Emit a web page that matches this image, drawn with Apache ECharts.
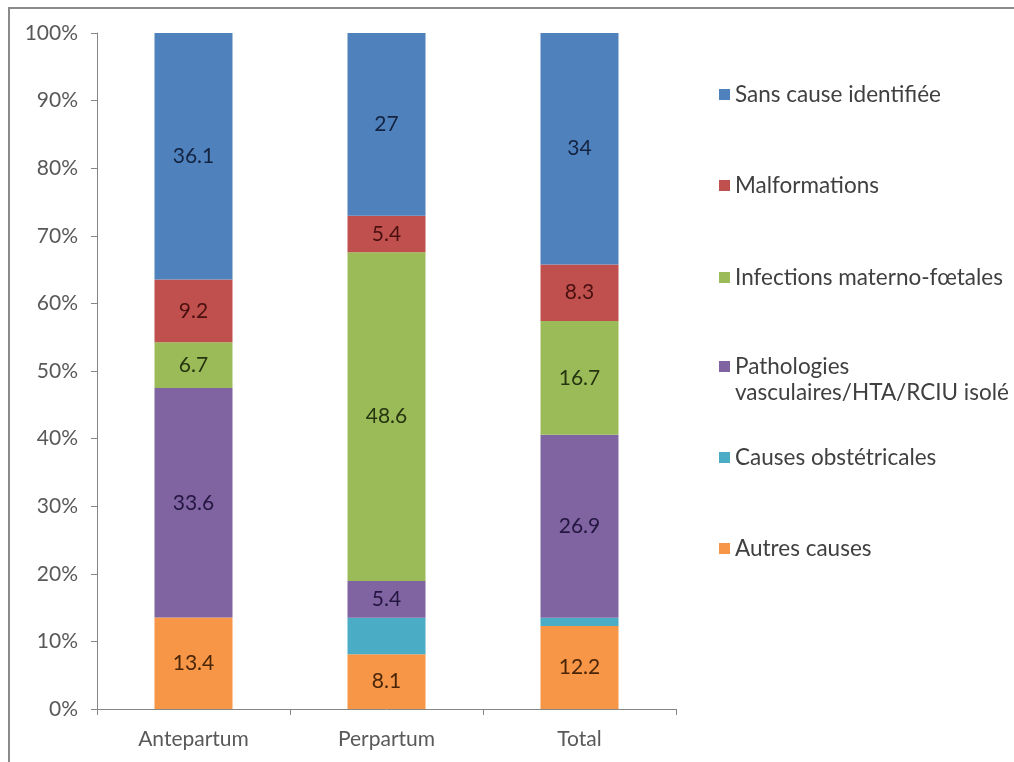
<!DOCTYPE html>
<html>
<head>
<meta charset="utf-8">
<script src="https://cdn.jsdelivr.net/npm/echarts@6/dist/echarts.min.js"></script>
<style>
  html, body { margin: 0; padding: 0; background: #ffffff; }
  #chart { width: 1014px; height: 762px; }
</style>
</head>
<body>
<div id="chart"></div>
<script>
// Périodes de décès
const categories = ['Antepartum', 'Perpartum', 'Total'];

// Causes, du bas de la pile vers le haut
const autresCauses        = [13.4, 8.1, 12.2];
const causesObstetricales = [0, 5.4, 1.2];
const pathologiesVasc     = [33.6, 5.4, 26.9];
const infections          = [6.7, 48.6, 16.7];
const malformations       = [9.2, 5.4, 8.3];
const sansCause           = [36.1, 27, 34];

const yTickLabels = ['0%', '10%', '20%', '30%', '40%', '50%', '60%', '70%', '80%', '90%', '100%'];

const seriesDefs = [
  { name: 'Autres causes', values: autresCauses, color: '#F79646', labelColor: '#4a2508', showLabel: true },
  { name: 'Causes obstétricales', values: causesObstetricales, color: '#4BACC6', labelColor: '#12343d', showLabel: false },
  { name: 'Pathologies vasculaires/HTA/RCIU isolé', values: pathologiesVasc, color: '#8064A2', labelColor: '#231640', showLabel: true },
  { name: 'Infections materno-fœtales', values: infections, color: '#9BBB59', labelColor: '#263510', showLabel: true },
  { name: 'Malformations', values: malformations, color: '#C0504D', labelColor: '#4a1010', showLabel: true },
  { name: 'Sans cause identifiée', values: sansCause, color: '#4F81BD', labelColor: '#14233f', showLabel: true }
];

// Totaux par colonne : chaque colonne est ramenée à 100 %
const totals = categories.map((_, i) => seriesDefs.reduce((s, d) => s + d.values[i], 0));

const FONT = 'Lato, "Open Sans", sans-serif';
const FS = 21;
const LEGEND_FS = 22.5;

const series = seriesDefs.map(d => ({
  name: d.name,
  type: 'bar',
  stack: 'pct',
  barWidth: 78,
  itemStyle: { color: d.color },
  label: {
    show: d.showLabel,
    position: 'inside',
    fontFamily: FONT,
    fontSize: FS,
    color: d.labelColor,
    formatter: p => d.values[p.dataIndex] > 0 ? String(d.values[p.dataIndex]) : ''
  },
  data: d.values.map((v, i) => ({ value: v / totals[i] * 100 }))
}));

// Légende : une entrée par composant, de haut en bas ;
// la pathologie vasculaire s'écrit sur deux lignes (la seconde sans pastille)
const PATHO = 'Pathologies vasculaires/HTA/RCIU isolé';
const legendRows = [
  { name: 'Sans cause identifiée', text: 'Sans cause identifiée', top: 78 },
  { name: 'Malformations', text: 'Malformations', top: 169 },
  { name: 'Infections materno-fœtales', text: 'Infections materno-fœtales', top: 261 },
  { name: PATHO, text: 'Pathologies', top: 350 },
  { name: PATHO, text: 'vasculaires/HTA/RCIU isolé', top: 376, noIcon: true },
  { name: 'Causes obstétricales', text: 'Causes obstétricales', top: 441 },
  { name: 'Autres causes', text: 'Autres causes', top: 532 }
];

const legends = legendRows.map(r => ({
  data: [r.noIcon ? { name: r.name, icon: 'none' } : { name: r.name }],
  left: 714,
  top: r.top,
  icon: 'rect',
  itemWidth: 11,
  itemHeight: 11,
  itemGap: 0,
  selectedMode: false,
  formatter: () => r.text,
  textStyle: { fontFamily: FONT, fontSize: LEGEND_FS, color: '#404040' }
}));

const chart = echarts.init(document.getElementById('chart'), null, { renderer: 'canvas' });
chart.setOption({
  animation: false,
  backgroundColor: '#ffffff',
  grid: { left: 97, right: 338, top: 33, bottom: 53, containLabel: false },
  legend: legends,
  xAxis: {
    type: 'category',
    data: categories,
    axisLine: { show: true, lineStyle: { color: '#868686', width: 1 } },
    axisTick: { show: true, alignWithLabel: false, length: 6, lineStyle: { color: '#868686' } },
    axisLabel: { fontFamily: FONT, fontSize: FS, color: '#595959', margin: 20 }
  },
  yAxis: {
    type: 'value',
    min: 0,
    max: 100,
    interval: 10,
    axisLine: { show: true, lineStyle: { color: '#868686', width: 1 } },
    axisTick: { show: true, inside: false, length: 6, lineStyle: { color: '#868686' } },
    splitLine: { show: false },
    axisLabel: {
      fontFamily: FONT, fontSize: FS, color: '#595959', margin: 19,
      formatter: v => yTickLabels[Math.round(v / 10)]
    }
  },
  graphic: [{
    type: 'rect',
    shape: { x: 9, y: 8, width: 1100, height: 1000 },
    style: { fill: null, stroke: '#8a8a8a', lineWidth: 2 },
    silent: true,
    z: 100
  }],
  series: series
});
</script>
</body>
</html>
